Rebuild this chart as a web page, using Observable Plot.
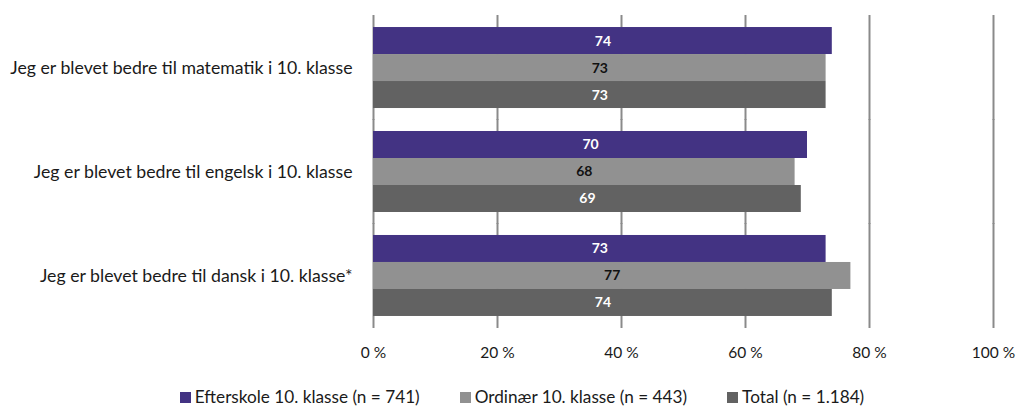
<!DOCTYPE html>
<html>
<head>
<meta charset="utf-8">
<script src="https://cdn.jsdelivr.net/npm/d3@7"></script>
<script src="https://cdn.jsdelivr.net/npm/@observablehq/plot@0.6"></script>
<style>
  html, body { margin: 0; padding: 0; background: white; }
  #chart svg { display: block; }
  .legend { display: flex; justify-content: center; gap: 40px; font-family: Lato, sans-serif; font-size: 17.2px; color: #1a1a1a; margin-top: 16px; padding-left: 26px; line-height: 18px; }
  .legend span.item { display: inline-flex; align-items: center; }
  .legend span.sw { display: inline-block; width: 11px; height: 11px; margin-right: 4px; }
</style>
</head>
<body>
<div id="chart"></div>
<script>
const categories = [
  "Jeg er blevet bedre til matematik i 10. klasse",
  "Jeg er blevet bedre til engelsk i 10. klasse",
  "Jeg er blevet bedre til dansk i 10. klasse*"
];
const series = ["Efterskole 10. klasse (n = 741)", "Ordinær 10. klasse (n = 443)", "Total (n = 1.184)"];
const efterskole = [74, 70, 73];
const ordinaer = [73, 68, 77];
const total = [73, 69, 74];
const xTicks = [0, 20, 40, 60, 80, 100];
const colors = ["#433383", "#919191", "#626262"];
const labelColors = ["#ffffff", "#111111", "#ffffff"];

const values = [efterskole, ordinaer, total];
const data = categories.flatMap((c, i) => values.map((arr, j) => ({category: c, series: series[j], value: arr[i], j})));

const chart = Plot.plot({
  width: 1018, height: 372,
  marginLeft: 373, marginRight: 25, marginTop: 16, marginBottom: 45,
  style: {fontFamily: "Lato, sans-serif", fontSize: "15.5px", color: "#1a1a1a", background: "white"},
  x: {domain: [0, 100], ticks: xTicks, tickFormat: d => d + " %", label: null, tickSize: 0, tickPadding: 31},
  y: {domain: series, axis: null, padding: 0, round: false},
  fy: {domain: categories, label: null, tickSize: 0, tickPadding: 21, paddingInner: 0.221, paddingOuter: 0.106, round: false},
  color: {domain: series, range: colors},
  marks: [
    Plot.ruleX(xTicks, {stroke: "#8a8a8a", strokeWidth: 2, insetTop: -12, insetBottom: -12}),
    Plot.barX(data, {x: "value", y: "series", fy: "category", fill: "series"}),
    Plot.text(data, {x: d => d.value / 2, y: "series", fy: "category", text: d => String(d.value), fill: d => labelColors[d.j], fontWeight: "bold", fontSize: 14}),
    Plot.axisFy({anchor: "left", tickSize: 0, tickPadding: 21, label: null, fontSize: 17.7})
  ]
});
document.getElementById("chart").appendChild(chart);

const legend = document.createElement("div");
legend.className = "legend";
series.forEach((s, i) => {
  const item = document.createElement("span");
  item.className = "item";
  const sw = document.createElement("span");
  sw.className = "sw";
  sw.style.background = colors[i];
  item.appendChild(sw);
  item.appendChild(document.createTextNode(s));
  legend.appendChild(item);
});
document.body.appendChild(legend);
</script>
</body>
</html>
